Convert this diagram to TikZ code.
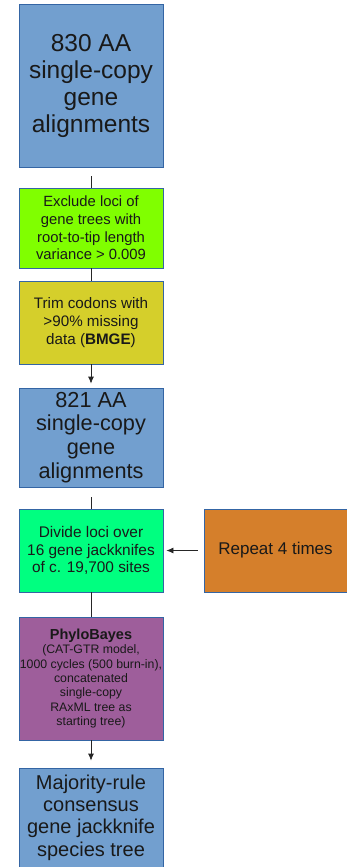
\documentclass[tikz,border=0pt]{standalone}
\usepackage{fontspec}
\setmainfont{Liberation Sans}
\usetikzlibrary{arrows.meta}
\definecolor{alnblue}{HTML}{729FCF}
\definecolor{edgeblue}{HTML}{3465A4}
\definecolor{limegreen}{HTML}{80FF00}
\definecolor{olive}{HTML}{D5CF2B}
\definecolor{springgreen}{HTML}{00FF80}
\definecolor{repeatorange}{HTML}{D57F2B}
\definecolor{bayespurple}{HTML}{9E5E9B}
\begin{document}
\begin{tikzpicture}[x=1pt,y=-1pt,
	box/.style={draw=edgeblue,line width=0.8pt,minimum width=144pt,inner sep=0pt,align=center,text=black!90},
	link/.style={line width=0.8pt,black!85},
	arr/.style={link,-{Latex[length=7pt,width=6pt]}}]
	%page size
	\useasboundingbox (0,0) rectangle (347,867);
	
	%alignments
	\node[box,fill=alnblue,minimum height=163pt,font=\fontsize{24.5}{27}\selectfont] (b1) at (91,85.5) {830 AA\\single-copy\\gene\\alignments};
	\node[box,fill=limegreen,minimum height=80pt,font=\fontsize{14.8}{17.6}\selectfont] (b2) at (91,228) {Exclude loci of\\gene trees with\\root-to-tip length\\variance > 0.009};
	\node[box,fill=olive,minimum height=83pt,font=\fontsize{15.2}{17.6}\selectfont] (b3) at (91,322.5) {Trim codons with\\>90\% missing\\data (\textbf{BMGE})};
	\node[box,fill=alnblue,minimum height=99pt,font=\fontsize{21.7}{23.7}\selectfont] (b4) at (91,437.5) {821 AA\\single-copy\\gene\\alignments};
	
	%jackknifes
	\node[box,fill=springgreen,minimum height=83pt,font=\fontsize{15.4}{17.6}\selectfont] (b5) at (91,550.5) {Divide loci over\\16 gene jackknifes\\of c. 19,700 sites};
	\node[box,fill=repeatorange,minimum width=143pt,minimum height=83pt,font=\fontsize{17}{20}\selectfont] (b6) at (275.5,550.5) {Repeat 4 times};
	\node[box,fill=bayespurple,minimum height=123pt,font=\fontsize{12.3}{14.3}\selectfont] (b7) at (91,678.5) {{\fontsize{14.5}{16}\selectfont\bfseries PhyloBayes}\\(CAT-GTR model,\\1000 cycles (500 burn-in),\\concatenated\\single-copy\\RAxML tree as\\starting tree)};
	\node[box,fill=alnblue,minimum height=99pt,font=\fontsize{20}{22.3}\selectfont] (b8) at (91,817.5) {Majority-rule\\consensus\\gene jackknife\\species tree};
	
	%connectors
	\draw[link,shorten <=9pt] (b1) -- (b2);
	\draw[link] (b2) -- (b3);
	\draw[arr,shorten >=4pt] (b3) -- (b4);
	\draw[link,shorten <=10pt] (b4) -- (b5);
	\draw[arr,shorten <=6pt,shorten >=3pt] (b6) -- (b5); %repeat
	\draw[link] (b5) -- (b7);
	\draw[arr,shorten >=7pt] (b7) -- (b8);
	
\end{tikzpicture}
\end{document}
